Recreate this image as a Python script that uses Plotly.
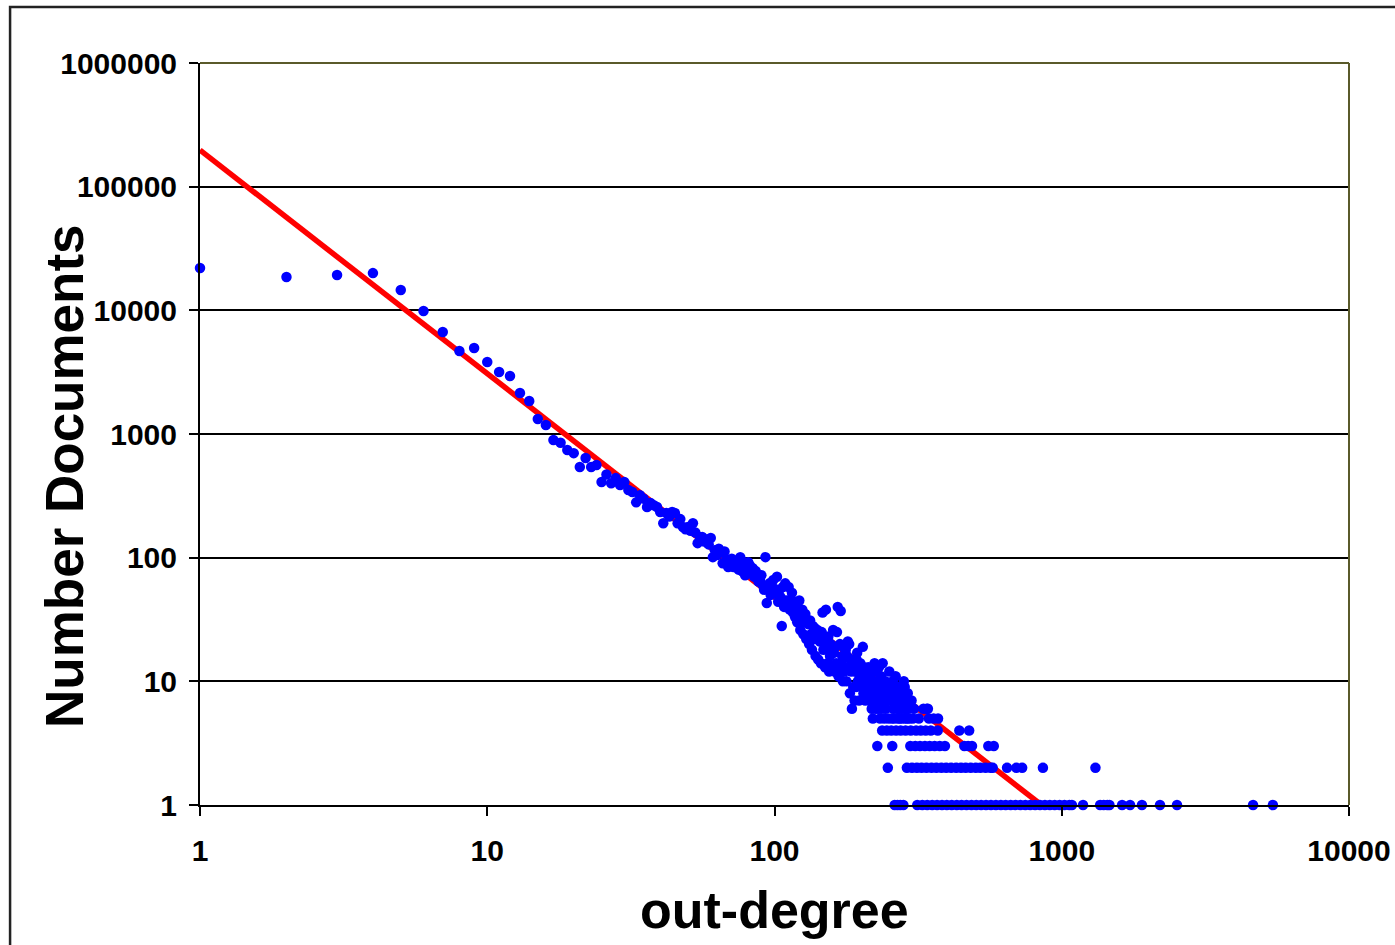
import plotly.graph_objects as go

# ---------------- data ----------------
head_degree = [1, 2, 3, 4, 5, 6, 7, 8, 9, 10, 11, 12, 13, 14, 15, 16]
head_count = [22000, 18600, 19300, 20000, 14600, 9870, 6680, 4690, 4960, 3820,
              3170, 2940, 2145, 1850, 1322, 1183]

mid_degree = [17, 18, 19, 20, 21, 22, 23, 24, 25, 26, 27, 28, 29, 30,
              31, 32, 33, 34, 35, 36, 37, 38, 39, 40,
              41, 42, 43, 44, 45, 46, 47, 48, 49, 50,
              51, 52, 53, 54, 55, 56, 57, 58, 59, 60,
              61, 62, 63, 64, 65, 66, 67, 68, 69, 70,
              71, 72, 73, 74, 75, 76, 77, 78, 79, 80,
              81, 82, 83, 84, 85, 86, 87, 88, 89, 90,
              91, 92, 93, 94, 95, 96, 97, 98, 99, 100]
mid_count = [894, 850, 743, 700, 541, 640, 541, 561, 409, 470, 400, 440, 387, 409,
             353, 340, 280, 320, 300, 257, 277, 265, 257, 234,
             190, 230, 215, 234, 230, 190, 205, 177, 170, 177,
             165, 190, 160, 131, 147, 147, 135, 140, 128, 144,
             101, 115, 105, 118, 110, 90, 112, 96, 84, 90,
             98, 84, 92, 88, 80, 101, 78, 92, 72, 79,
             92, 87, 75, 82, 70, 78, 70, 64, 66, 72,
             60, 55, 101, 43, 58, 62, 50, 54, 66, 56]

tail_degree = [101, 102, 103, 104, 105, 106, 107, 108, 109, 110,
               111, 112, 113, 114, 115, 116, 117, 118, 119, 120,
               121, 122, 123, 124, 125, 126, 127, 128, 129, 130,
               131, 132, 133, 134, 135, 136, 137, 138, 139, 140,
               141, 142, 143, 144, 145, 146, 147, 148, 149, 150,
               151, 152, 153, 154, 155, 156, 157, 158, 159, 160,
               161, 162, 163, 164, 165, 166, 167, 168, 169, 170,
               171, 172, 173, 174, 175, 176, 177, 178, 179, 180,
               181, 182, 183, 184, 185, 186, 187, 188, 189, 190,
               191, 192, 193, 194, 195, 196, 197, 198, 199, 200,
               201, 202, 203, 204, 205, 206, 207, 208, 209, 210,
               211, 212, 213, 214, 215, 216, 217, 218, 219, 220,
               221, 222, 223, 224, 225]
tail_count = [52, 70, 44, 55, 48, 28, 58, 40, 62, 45,
              42, 58, 38, 46, 52, 36, 44, 33, 40, 30,
              34, 45, 26, 30, 38, 24, 33, 35, 22, 30,
              29, 20, 31, 24, 18, 28, 22, 27, 16, 25,
              26, 15, 24, 21, 14, 25, 36, 18, 22, 13,
              38, 21, 14, 23, 12, 16, 20, 18, 13, 26,
              17, 12, 19, 14, 25, 40, 11, 13, 20, 37,
              14, 16, 10, 19, 12, 13, 18, 10, 16, 21,
              13, 20, 8, 15, 12, 6, 14, 9, 13, 7,
              12, 9, 15, 17, 10, 12, 7, 11, 14, 10,
              9, 11, 19, 8, 13, 10, 7, 12, 9, 8,
              10, 13, 8, 7, 11, 9, 12, 6, 10, 5,
              9, 7, 14, 8, 6]

sparse_degree = [226, 227, 229, 230, 231, 232, 233, 234, 235, 236, 238, 239, 240,
                 241, 242, 243, 244, 245, 247, 249, 250, 251, 253, 254, 256, 258,
                 259, 260, 261, 263, 264, 266, 267, 269, 270, 271, 272, 273, 276,
                 277, 278, 279, 282, 283, 284, 285, 287, 288, 290, 291, 293, 295,
                 300, 303, 306, 318, 330, 339, 342, 345, 358, 371]
sparse_count = [10, 12, 8, 6, 13, 7, 5, 9, 11, 6, 14, 7, 9,
                5, 8, 10, 6, 7, 9, 5, 8, 12, 7, 9, 5, 10,
                6, 8, 5, 7, 11, 6, 8, 5, 9, 6, 7, 5, 8,
                6, 5, 7, 10, 6, 9, 5, 7, 6, 5, 8, 6, 5,
                7, 5, 6, 5, 6, 6, 6, 5, 5, 5]

four_degree = [237, 246, 255, 265, 275, 286, 298, 311, 323, 336, 350, 370, 440, 476]
three_degree = [228, 257, 297, 309, 321, 334, 347, 361, 376, 392, 458, 472, 487, 555, 580]
two_degree = [248, 289, 301, 313, 325, 338, 352, 366, 381, 396, 412, 429, 446, 463,
              482, 502, 521, 543, 565, 575, 645, 695, 728, 860, 1310]
one_degree = [262, 268, 274, 281, 314, 327, 340, 354, 368, 383, 398, 414, 431, 448,
              466, 485, 504, 524, 545, 567, 590, 614, 638, 664, 690, 718, 747, 777,
              808, 840, 874, 909, 945, 983, 1022, 1063, 1085, 1186, 1360, 1400,
              1440, 1466, 1622, 1729, 1902, 2198, 2519, 4634, 5434]

trend_degree = [1, 850]
trend_count = [197700, 1]

x_ticks = [1, 10, 100, 1000, 10000]
x_labels = ["1", "10", "100", "1000", "10000"]
y_ticks = [1, 10, 100, 1000, 10000, 100000, 1000000]
y_labels = ["1", "10", "100", "1000", "10000", "100000", "1000000"]

# ---------------- assemble ----------------
xs = (head_degree + mid_degree + tail_degree + sparse_degree
      + four_degree + three_degree + two_degree + one_degree)
ys = (head_count + mid_count + tail_count + sparse_count
      + [4] * len(four_degree) + [3] * len(three_degree)
      + [2] * len(two_degree) + [1] * len(one_degree))

FONT = "Liberation Sans, Arial, sans-serif"

fig = go.Figure()
fig.add_trace(go.Scatter(x=trend_degree, y=trend_count, mode="lines",
                         line=dict(color="#FF0000", width=5.5),
                         showlegend=False, hoverinfo="skip"))
fig.add_trace(go.Scatter(x=xs, y=ys, mode="markers",
                         marker=dict(symbol="circle", size=10.5, color="#0000FF",
                                     line=dict(width=0)),
                         cliponaxis=False, showlegend=False))

fig.update_layout(
    width=1395, height=945,
    margin=dict(l=200, r=46, t=63, b=140, pad=0),
    paper_bgcolor="white", plot_bgcolor="white",
    font=dict(family=FONT, color="black"),
    xaxis=dict(type="log", range=[0, 4], showgrid=False, zeroline=False,
               automargin=False,
               showline=True, linecolor="black", linewidth=2,
               ticks="outside", ticklen=9, tickwidth=2, tickcolor="black",
               tickvals=x_ticks, ticktext=x_labels,
               tickfont=dict(size=30, family=FONT, weight="bold"),
               ticklabelstandoff=9),
    yaxis=dict(type="log", range=[0, 6], showgrid=True, gridcolor="black",
               gridwidth=2, zeroline=False, automargin=False,
               showline=True, linecolor="black", linewidth=2,
               ticks="outside", ticklen=9, tickwidth=2, tickcolor="black",
               tickvals=y_ticks, ticktext=y_labels,
               tickfont=dict(size=30, family=FONT, weight="bold"),
               ticklabelstandoff=6),
    shapes=[
        dict(type="line", xref="paper", yref="paper", x0=0, x1=1, y0=1, y1=1,
             line=dict(color="#5a5a2a", width=2), layer="above"),
        dict(type="line", xref="paper", yref="paper", x0=1, x1=1, y0=0, y1=1,
             line=dict(color="#5a5a2a", width=2), layer="above"),
        dict(type="rect", xref="paper", yref="paper",
             x0=-0.1653, x1=1.2, y0=-0.3, y1=1.0755,
             line=dict(color="#222222", width=2.5), layer="below"),
    ],
    annotations=[
        dict(text="out-degree", xref="paper", yref="paper", x=0.5, y=-0.1415,
             xanchor="center", yanchor="middle", showarrow=False,
             font=dict(size=52, family=FONT, weight="bold")),
        dict(text="Number Documents", xref="paper", yref="paper",
             x=-0.1175, y=0.4434, xanchor="center", yanchor="middle",
             textangle=-90, showarrow=False,
             font=dict(size=53, family=FONT, weight="bold")),
    ],
)

fig.write_html("out.html")
